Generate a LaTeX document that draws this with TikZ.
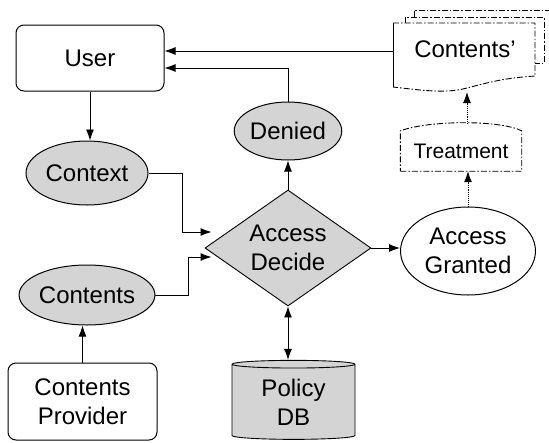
\documentclass[tikz,border=0pt]{standalone}
\usepackage{fontspec}
\setmainfont{Liberation Sans}
\usetikzlibrary{shapes.geometric,arrows.meta}

\tikzset{
  box/.style={draw, line width=1pt, rounded corners=8pt, align=center},
  oval/.style={draw, ellipse, line width=1pt, inner sep=0pt, align=center},
  shade/.style={fill=black!17},
  link/.style={-{Latex[length=11pt,width=8pt]}, line width=0.9pt},
  twolink/.style={{Latex[length=11pt,width=8pt]}-{Latex[length=11pt,width=8pt]}, line width=0.9pt},
  sketchy/.style={line width=0.9pt, dash pattern=on 6pt off 2pt on 1.5pt off 2pt},
}

\begin{document}
\begin{tikzpicture}[x=1pt, y=-1pt, font=\fontsize{24}{29}\selectfont]
\useasboundingbox (0,0) rectangle (549,442);

% boxes and ovals
\node[box, minimum width=148pt, minimum height=66pt] (user) at (90,58) {User};
\node[box, minimum width=149pt, minimum height=77pt] (prov) at (82.5,401.5) {Contents\\Provider};
\node[oval, shade, minimum width=122pt, minimum height=64pt] (ctx) at (87,173) {Context};
\node[oval, shade, minimum width=125pt, minimum height=60pt] (cts) at (87,295) {Contents};
\node[oval, shade, minimum width=97pt, minimum height=58pt] (den) at (288,131) {Denied};
\node[oval, minimum width=135pt, minimum height=88pt] (grant) at (468,251) {Access\\Granted};
\node[draw, diamond, shade, line width=0.9pt, aspect=1.43, minimum width=166pt, minimum height=116pt, inner sep=0pt, align=center] (dec) at (288,248) {Access\\Decide};
\node[draw, cylinder, shade, line width=0.9pt, shape border rotate=90, aspect=0.12, minimum width=123pt, minimum height=79pt, inner sep=0pt, align=center] (pdb) at (293.5,402) {Policy\\DB};

% treatment step
\node[minimum width=121pt, minimum height=40pt, inner sep=0pt, font=\fontsize{21}{24}\selectfont] (treat) at (461,151) {Treatment};
\draw[sketchy] (treat.south west) -- (treat.south east) -- (treat.north east)
  .. controls (500,120) and (430,120) .. (treat.north west) -- cycle;

% stacked output documents
\node (doc) at (465,49) {Contents'};
\draw[sketchy] (414,17) -- (414,10) -- (552,10);
\draw[sketchy] (405,23) -- (405,17) -- (544,17) -- (544,63) -- (535,63);
\draw[sketchy] (393,23) -- (535,23) -- (535,76)
  .. controls (505,78) and (490,82) .. (467,88)
  .. controls (445,94) and (420,90) .. (393,87);
\draw[line width=0.9pt] (393,87) -- (393,23);
\coordinate (docl) at (393,51);
\coordinate (docb) at (467,92);
\coordinate (treattop) at (467,124);

% connectors
\draw[link] (user.south) -- (user.south |- ctx.north);
\draw[link] (prov.north) -- (prov.north |- cts.south);
\draw[link] (ctx.east) -- ++(34,0) |- ([xshift=7pt,yshift=16pt]dec.west);
\draw[link] (cts.east) -- ++(33,0) |- ([xshift=7pt,yshift=-9pt]dec.west);
\draw[link] (dec.east) -- (dec.east -| grant.west);
\draw[link] (dec.north) -- (den.south);
\draw[link] (den.north) |- ([yshift=-10pt]user.east);
\draw[link] (docl) -- (docl -| user.east);
\draw[twolink] (dec.south) -- (dec.south |- pdb.north);
\draw[link, densely dotted] (grant.north) -- (grant.north |- treat.south);
\draw[link, densely dotted] (treattop) -- (docb);
\end{tikzpicture}
\end{document}
